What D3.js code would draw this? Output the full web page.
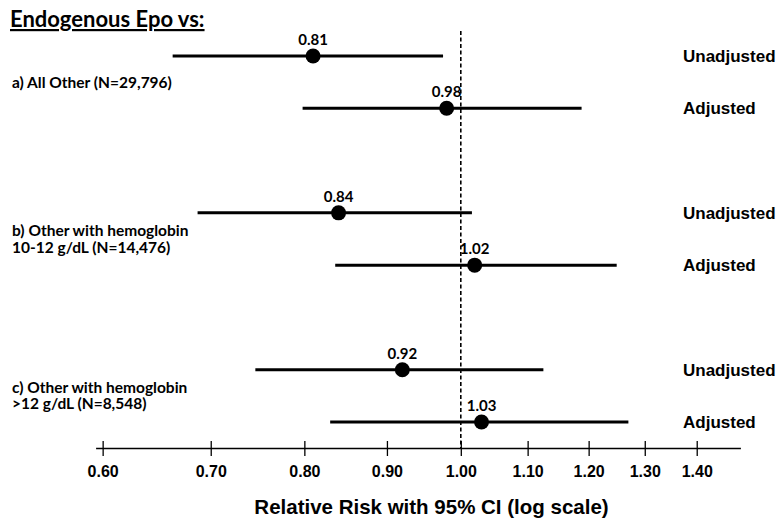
<!DOCTYPE html>
<html>
<head>
<meta charset="utf-8">
<script src="https://cdn.jsdelivr.net/npm/d3@7/dist/d3.min.js"></script>
<style>
  body { margin: 0; background: #fff; }
  svg { display: block; }
  .sans { font-family: "Liberation Sans", Arial, sans-serif; font-weight: bold; }
  .cal { font-family: Lato, "Open Sans", sans-serif; font-weight: bold; }
</style>
</head>
<body>
<svg id="chart" width="779" height="519"></svg>
<script>
// --- data ---
const groupLabels = [
  ["a) All Other (N=29,796)"],
  ["b) Other with hemoglobin", "10-12 g/dL (N=14,476)"],
  ["c) Other with hemoglobin", ">12 g/dL (N=8,548)"]
];
const rowLabels = ["Unadjusted", "Adjusted", "Unadjusted", "Adjusted", "Unadjusted", "Adjusted"];
const rowSlots = [0, 1, 3, 4, 6, 7];        // vertical slot of each row
const estimates = [0.81, 0.98, 0.84, 1.02, 0.92, 1.03];
const lowerCI = [0.663, 0.798, 0.687, 0.836, 0.746, 0.830];
const upperCI = [0.975, 1.188, 1.016, 1.249, 1.125, 1.270];
const tickVals = [0.60, 0.70, 0.80, 0.90, 1.00, 1.10, 1.20, 1.30, 1.40];

const svg = d3.select("#chart");

const x = d3.scaleLog().domain([0.594, 1.49]).range([95.6, 740.4]);
const y = d3.scaleLinear().domain([0, 7]).range([56, 422]);
const axisY = 448;

// Title
svg.append("text")
  .attr("class", "cal")
  .attr("x", 10).attr("y", 27)
  .attr("font-size", 22)
  .attr("text-decoration", "underline")
  .text("Endogenous Epo vs:");

// reference line at RR = 1
svg.append("line")
  .attr("x1", x(1)).attr("x2", x(1))
  .attr("y1", 31).attr("y2", axisY)
  .attr("stroke", "#000")
  .attr("stroke-width", 1.6)
  .attr("stroke-dasharray", "4,2.5");

// group labels
groupLabels.forEach((lines, gi) => {
  const cy = y(gi * 3 + 0.5);
  const t = svg.append("text").attr("class", "cal").attr("font-size", 15.5);
  lines.forEach((ln, li) => {
    const base = lines.length === 1 ? cy + 6 : cy - 3 + li * 16.5;
    t.append("tspan").attr("x", 12).attr("y", base).text(ln);
  });
});

const rows = rowLabels.map((lab, i) => ({
  label: lab, slot: rowSlots[i], est: estimates[i], lo: lowerCI[i], hi: upperCI[i]
}));

const rowG = svg.selectAll(".row").data(rows).enter().append("g").attr("class", "row");

rowG.append("line")
  .attr("x1", d => x(d.lo)).attr("x2", d => x(d.hi))
  .attr("y1", d => y(d.slot)).attr("y2", d => y(d.slot))
  .attr("stroke", "#000").attr("stroke-width", 3);

rowG.append("circle")
  .attr("cx", d => x(d.est)).attr("cy", d => y(d.slot))
  .attr("r", 7.5).attr("fill", "#000");

rowG.append("text")
  .attr("class", "cal")
  .attr("font-size", 15)
  .attr("text-anchor", "middle")
  .attr("x", d => x(d.est)).attr("y", d => y(d.slot) - 11)
  .text(d => d3.format(".2f")(d.est));

rowG.append("text")
  .attr("class", "sans")
  .attr("font-size", 17)
  .attr("x", 683).attr("y", d => y(d.slot) + 6)
  .text(d => d.label);

// x axis
const axis = svg.append("g")
  .attr("transform", `translate(0,${axisY})`)
  .call(d3.axisBottom(x).tickValues(tickVals).tickFormat(d3.format(".2f")).tickSize(8).tickSizeOuter(0));
axis.select(".domain").attr("stroke", "#000").attr("stroke-width", 1.6);
axis.selectAll(".tick line").attr("y1", -7).attr("y2", 8).attr("stroke", "#000").attr("stroke-width", 1.3);
axis.selectAll(".tick text")
  .attr("class", "sans")
  .attr("font-size", 16)
  .attr("fill", "#000")
  .attr("y", 29).attr("dy", 0);
axis.attr("font-family", null).attr("font-size", null);

svg.append("text")
  .attr("class", "sans")
  .attr("font-size", 20.5)
  .attr("text-anchor", "middle")
  .attr("x", 431.5).attr("y", 514)
  .text("Relative Risk with 95% CI (log scale)");
</script>
</body>
</html>
